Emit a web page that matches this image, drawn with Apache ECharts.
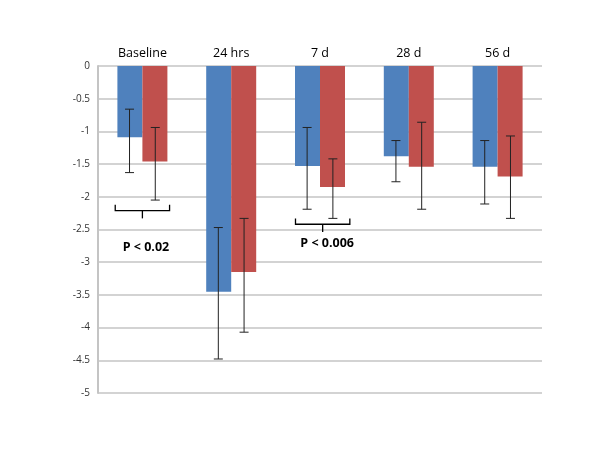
<!DOCTYPE html>
<html><head><meta charset="utf-8">
<script src="https://cdn.jsdelivr.net/npm/echarts@6/dist/echarts.min.js"></script>
<style>html,body{margin:0;padding:0;background:#fff}#c{width:600px;height:464px}</style>
</head><body><div id="c"></div>
<script>
var categories = ['Baseline', '24 hrs', '7 d', '28 d', '56 d'];
var blueValues = [-1.09, -3.45, -1.53, -1.38, -1.54];
var blueErrLow = [-1.63, -4.48, -2.19, -1.77, -2.11];
var blueErrHigh = [-0.66, -2.47, -0.94, -1.14, -1.14];
var redValues = [-1.46, -3.15, -1.85, -1.54, -1.69];
var redErrLow = [-2.05, -4.07, -2.33, -2.19, -2.33];
var redErrHigh = [-0.94, -2.33, -1.42, -0.86, -1.07];
var yTicks = { min: -5, max: 0, interval: 0.5 };
// brackets: [categoryIndex, armTop, bar, tickBottom, xShiftFraction]
var brackets = [[0, -2.12, -2.21, -2.33, 0.0], [2, -2.33, -2.42, -2.54, 0.03]];
// annotations: [categoryIndex, value, text, xShiftFraction]
var pLabels = [[0, -2.77, 'P < 0.02', 0.04], [2, -2.71, 'P < 0.006', 0.08]];

var BLUE = '#4F81BD', RED = '#C0504D';
var chart = echarts.init(document.getElementById('c'), null, { renderer: 'canvas' });

function errItem(offsetSign) {
  return function (params, api) {
    var ci = api.value(0);
    var hi = api.coord([ci, api.value(1)]);
    var lo = api.coord([ci, api.value(2)]);
    var band = api.size([1, 0])[0];
    var x = hi[0] + offsetSign * band * 0.145;
    var cap = 4.5;
    var st = { stroke: '#222', lineWidth: 1 };
    return { type: 'group', children: [
      { type: 'line', shape: { x1: x, y1: hi[1], x2: x, y2: lo[1] }, style: st },
      { type: 'line', shape: { x1: x - cap, y1: hi[1], x2: x + cap, y2: hi[1] }, style: st },
      { type: 'line', shape: { x1: x - cap, y1: lo[1], x2: x + cap, y2: lo[1] }, style: st }
    ]};
  };
}

var blueErrData = categories.map(function (c, i) { return [i, blueErrHigh[i], blueErrLow[i]]; });
var redErrData = categories.map(function (c, i) { return [i, redErrHigh[i], redErrLow[i]]; });

chart.setOption({
  animation: false,
  backgroundColor: '#fff',
  grid: { left: 98, right: 58, top: 66, bottom: 71 },
  xAxis: {
    type: 'category', data: categories, position: 'top',
    axisLine: { show: false }, axisTick: { show: false },
    axisLabel: { color: '#000', fontSize: 12.5, fontFamily: 'Open Sans', margin: 6 }
  },
  yAxis: {
    type: 'value', min: yTicks.min, max: yTicks.max, interval: yTicks.interval,
    axisLine: { show: true, lineStyle: { color: '#c4c4c4', width: 2 } },
    axisTick: { show: false },
    axisLabel: { color: '#333', fontSize: 10, fontFamily: 'Open Sans', margin: 8 },
    splitLine: { lineStyle: { color: '#c4c4c4', width: 1.5 } }
  },
  series: [
    { type: 'bar', data: blueValues, barWidth: 25, barGap: '0%', itemStyle: { color: BLUE }, z: 2 },
    { type: 'bar', data: redValues, barWidth: 25, barGap: '0%', itemStyle: { color: RED }, z: 2 },
    { type: 'custom', data: blueErrData, renderItem: errItem(-1), encode: { x: 0, y: [1, 2] }, z: 5 },
    { type: 'custom', data: redErrData, renderItem: errItem(1), encode: { x: 0, y: [1, 2] }, z: 5 },
    { type: 'custom', data: brackets, encode: { x: 0, y: [1, 3] }, z: 5,
      renderItem: function (params, api) {
        var ci = api.value(0);
        var band = api.size([1, 0])[0];
        var top = api.coord([ci, api.value(1)]);
        var bar = api.coord([ci, api.value(2)]);
        var tick = api.coord([ci, api.value(3)]);
        var cx = top[0] + api.value(4) * band;
        var hw = band * 0.306;
        var st = { stroke: '#000', lineWidth: 1.3, fill: null };
        return { type: 'group', children: [
          { type: 'polyline', shape: { points: [[cx - hw, top[1]], [cx - hw, bar[1]], [cx + hw, bar[1]], [cx + hw, top[1]]] }, style: st },
          { type: 'line', shape: { x1: cx, y1: bar[1], x2: cx, y2: tick[1] }, style: st }
        ]};
      } },
    { type: 'custom', data: pLabels, encode: { x: 0, y: 1 }, z: 5,
      renderItem: function (params, api) {
        var ci = api.value(0);
        var band = api.size([1, 0])[0];
        var p = api.coord([ci, api.value(1)]);
        return { type: 'text', style: {
          x: p[0] + api.value(3) * band, y: p[1], text: pLabels[params.dataIndex][2],
          textAlign: 'center', textVerticalAlign: 'middle',
          font: 'bold 12.5px "Open Sans"', fill: '#000' } };
      } }
  ]
});
</script></body></html>
